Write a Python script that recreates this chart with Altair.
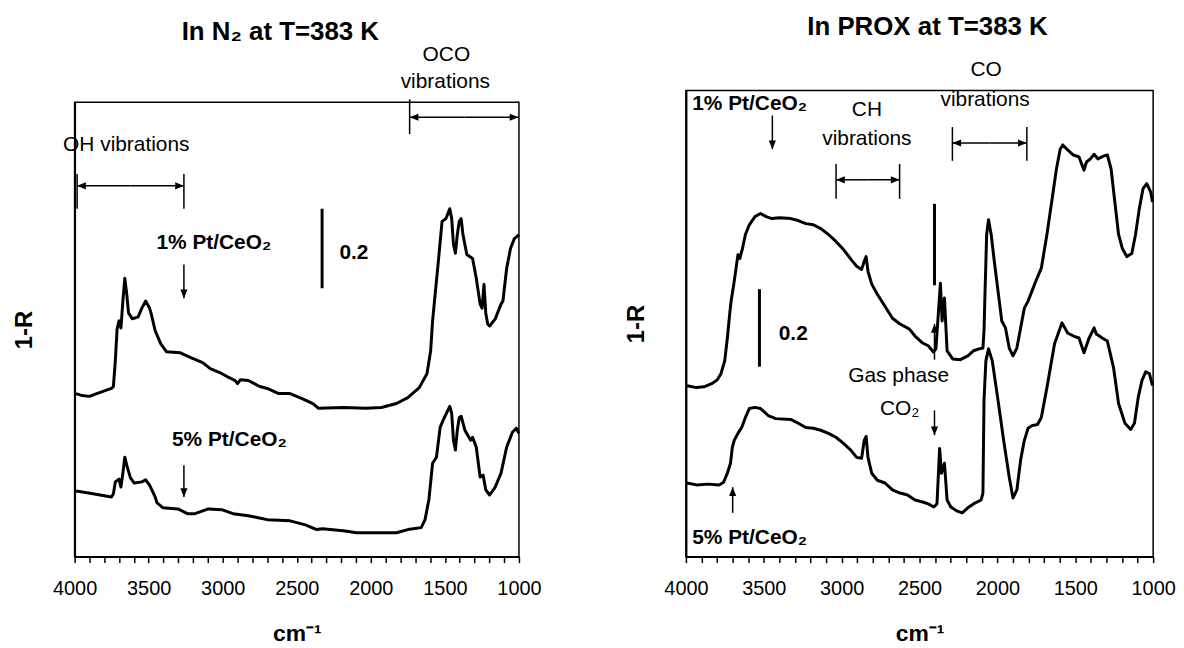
import altair as alt
import pandas as pd

FONT = "Liberation Sans"

# ---------------- Left panel: in N2 ----------------
n2_1_wn = [3990, 3950, 3900, 3850, 3790, 3751, 3738, 3725, 3713, 3700, 3687, 3674, 3661, 3648, 3636, 3610, 3571, 3546, 3520, 3494,
           3482, 3456, 3418, 3379, 3289, 3212, 3135, 3084, 3020, 2956, 2917, 2900, 2880, 2827, 2750, 2699, 2622, 2545, 2468, 2391,
           2353, 2186, 2032, 1929, 1827, 1750, 1673, 1621, 1596, 1583, 1570, 1557, 1544, 1519, 1493, 1467, 1454, 1442, 1429, 1416,
           1403, 1390, 1378, 1352, 1313, 1288, 1262, 1249, 1236, 1224, 1211, 1198, 1160, 1121, 1108, 1083, 1057, 1031, 1015, 1000]
n2_1_y = [0.41, 0.405, 0.403, 0.41, 0.418, 0.423, 0.428, 0.493, 0.573, 0.593, 0.575, 0.643, 0.70, 0.66, 0.613, 0.598, 0.603, 0.625, 0.643, 0.625,
          0.61, 0.568, 0.535, 0.515, 0.513, 0.50, 0.488, 0.473, 0.463, 0.45, 0.443, 0.435, 0.445, 0.443, 0.428, 0.423, 0.41, 0.41, 0.398, 0.385,
          0.373, 0.375, 0.373, 0.375, 0.385, 0.40, 0.425, 0.46, 0.518, 0.593, 0.643, 0.693, 0.743, 0.843, 0.85, 0.875, 0.85, 0.785, 0.763, 0.81,
          0.843, 0.85, 0.81, 0.76, 0.75, 0.70, 0.635, 0.625, 0.685, 0.613, 0.585, 0.58, 0.598, 0.635, 0.643, 0.725, 0.775, 0.80, 0.805, 0.81]

n2_5_wn = [3990, 3905, 3828, 3751, 3738, 3725, 3700, 3687, 3674, 3661, 3648, 3623, 3597, 3546, 3520, 3494, 3456, 3443, 3405, 3302,
           3238, 3187, 3097, 3007, 2930, 2827, 2699, 2545, 2442, 2365, 2327, 2186, 2096, 1929, 1827, 1750, 1660, 1634, 1608, 1583,
           1557, 1532, 1506, 1480, 1467, 1454, 1442, 1429, 1416, 1403, 1390, 1365, 1326, 1313, 1288, 1262, 1242, 1224, 1198, 1160,
           1121, 1083, 1044, 1018, 1000]
n2_5_y = [0.165, 0.16, 0.155, 0.15, 0.158, 0.188, 0.195, 0.175, 0.21, 0.25, 0.23, 0.198, 0.185, 0.188, 0.193, 0.18, 0.15, 0.135, 0.123, 0.12,
          0.108, 0.108, 0.12, 0.118, 0.108, 0.103, 0.093, 0.09, 0.08, 0.068, 0.07, 0.065, 0.06, 0.06, 0.06, 0.068, 0.073, 0.093, 0.143, 0.235,
          0.25, 0.325, 0.348, 0.368, 0.378, 0.36, 0.293, 0.268, 0.318, 0.35, 0.353, 0.318, 0.293, 0.30, 0.275, 0.20, 0.205, 0.168, 0.155, 0.175,
          0.21, 0.275, 0.313, 0.323, 0.31]

# ---------------- Right panel: in PROX ----------------
prox_1_wn = [3993, 3932, 3884, 3835, 3799, 3775, 3751, 3734, 3719, 3710, 3690, 3666, 3654, 3637, 3618, 3593, 3557, 3521, 3485, 3448,
             3400, 3327, 3279, 3230, 3182, 3134, 3085, 3037, 2988, 2940, 2904, 2872, 2855, 2843, 2831, 2807, 2771, 2722, 2674, 2625,
             2565, 2529, 2480, 2444, 2411, 2395, 2366, 2355, 2340, 2323, 2287, 2238, 2190, 2154, 2117, 2093, 2086, 2081, 2069, 2057,
             2040, 2020, 1996, 1972, 1948, 1924, 1900, 1875, 1851, 1827, 1803, 1754, 1718, 1682, 1645, 1621, 1597, 1580, 1549, 1512,
             1476, 1444, 1428, 1403, 1379, 1355, 1319, 1294, 1270, 1246, 1222, 1198, 1169, 1137, 1113, 1089, 1065, 1041, 1016, 1004]
prox_1_y = [0.441, 0.436, 0.438, 0.446, 0.456, 0.472, 0.505, 0.564, 0.626, 0.659, 0.710, 0.779, 0.769, 0.795, 0.831, 0.856, 0.877, 0.885, 0.877, 0.872,
            0.874, 0.872, 0.867, 0.859, 0.856, 0.846, 0.831, 0.813, 0.792, 0.767, 0.749, 0.741, 0.762, 0.774, 0.736, 0.703, 0.677, 0.646, 0.615, 0.600,
            0.587, 0.569, 0.551, 0.544, 0.528, 0.536, 0.705, 0.608, 0.667, 0.531, 0.510, 0.508, 0.518, 0.531, 0.536, 0.538, 0.582, 0.659, 0.831, 0.869,
            0.831, 0.762, 0.685, 0.608, 0.590, 0.538, 0.518, 0.538, 0.590, 0.641, 0.659, 0.710, 0.744, 0.831, 0.933, 1.000, 1.051, 1.062, 1.049, 1.036,
            1.031, 0.997, 1.018, 1.026, 1.038, 1.026, 1.033, 1.036, 1.000, 0.915, 0.831, 0.795, 0.774, 0.782, 0.831, 0.897, 0.949, 0.962, 0.941, 0.915]

prox_5_wn = [3993, 3932, 3860, 3787, 3758, 3734, 3714, 3702, 3690, 3666, 3642, 3618, 3593, 3557, 3521, 3472, 3424, 3327, 3279, 3230,
             3182, 3134, 3085, 3037, 2988, 2940, 2904, 2872, 2855, 2843, 2831, 2807, 2771, 2722, 2674, 2625, 2577, 2529, 2480, 2444,
             2408, 2388, 2371, 2359, 2340, 2323, 2299, 2262, 2226, 2190, 2154, 2105, 2093, 2086, 2074, 2057, 2033, 1996, 1960, 1924,
             1900, 1875, 1851, 1827, 1803, 1778, 1742, 1718, 1682, 1633, 1585, 1549, 1512, 1476, 1444, 1413, 1379, 1364, 1327, 1294,
             1254, 1222, 1181, 1144, 1120, 1096, 1072, 1048, 1024, 1004]
prox_5_y = [0.190, 0.185, 0.187, 0.185, 0.192, 0.215, 0.241, 0.282, 0.300, 0.318, 0.333, 0.359, 0.382, 0.385, 0.382, 0.364, 0.356, 0.354, 0.344, 0.333,
            0.331, 0.326, 0.318, 0.308, 0.292, 0.274, 0.256, 0.254, 0.300, 0.310, 0.256, 0.215, 0.197, 0.190, 0.172, 0.164, 0.159, 0.146, 0.141, 0.136,
            0.128, 0.136, 0.279, 0.215, 0.241, 0.146, 0.128, 0.118, 0.113, 0.126, 0.136, 0.146, 0.164, 0.403, 0.505, 0.536, 0.505, 0.403, 0.300, 0.205,
            0.151, 0.172, 0.249, 0.300, 0.331, 0.338, 0.341, 0.359, 0.436, 0.549, 0.603, 0.577, 0.569, 0.564, 0.526, 0.562, 0.590, 0.574, 0.564, 0.556,
            0.487, 0.395, 0.344, 0.328, 0.344, 0.410, 0.454, 0.477, 0.472, 0.441]

# ---------------- Annotations (data coordinates: wavenumber, 1-R) ----------------
n2_title = [(2611, 1.30, "In N\u2082 at T=383 K")]
n2_bold = [(3060, 0.7875, "1% Pt/CeO\u2082"), (2955, 0.2925, "5% Pt/CeO\u2082"), (2114, 0.7625, "0.2")]
n2_plain = [(1490, 1.2625, "OCO"), (1497, 1.1925, "vibrations"), (3651, 1.035, "OH vibrations")]
n2_bars = [(2329, 0.675, 0.875)]
n2_ticks = [(1738, 1.0625, 1.15), (3983, 0.875, 0.9625), (3262, 0.875, 0.9625)]
n2_arrows = [(1369, 1.105, 1738, 1.105), (1369, 1.105, 1003, 1.105),
             (3622, 0.9325, 3983, 0.9325), (3622, 0.9325, 3262, 0.9325),
             (3262, 0.735, 3262, 0.65), (3262, 0.23, 3262, 0.15)]

prox_title = [(2449, 1.346, "In PROX at T=383 K")]
prox_bold = [(3591, 1.167, "1% Pt/CeO\u2082"), (3591, 0.049, "5% Pt/CeO\u2082"), (3311, 0.574, "0.2")]
prox_plain = [(2838, 1.151, "CH"), (2838, 1.077, "vibrations"), (2072, 1.254, "CO"), (2079, 1.177, "vibrations"),
              (2634, 0.467, "Gas phase"), (2628, 0.382, "CO\u2082")]
prox_bars = [(3528, 0.49, 0.69), (2404, 0.70, 0.91)]
prox_ticks = [(3036, 0.923, 1.013), (2628, 0.923, 1.013), (2289, 1.021, 1.108), (1811, 1.021, 1.108)]
prox_arrows = [(2832, 0.972, 3036, 0.972), (2832, 0.972, 2628, 0.972),
               (2050, 1.067, 2289, 1.067), (2050, 1.067, 1811, 1.067),
               (3445, 1.138, 3445, 1.051), (2404, 0.508, 2404, 0.600),
               (2404, 0.377, 2404, 0.313), (3700, 0.113, 3700, 0.179)]

HEAD_PATHS = {
    "down": "M-0.9,-2.2L0.9,-2.2L0,0Z",
    "up": "M-0.9,2.2L0.9,2.2L0,0Z",
    "left": "M2.2,-0.9L2.2,0.9L0,0Z",
    "right": "M-2.2,-0.9L-2.2,0.9L0,0Z",
}


def head_dir(a):
    x1, y1, x2, y2 = a
    if x1 == x2:
        return "up" if y2 > y1 else "down"
    return "left" if x2 > x1 else "right"  # x axis is reversed


def panel(curves, ymax, yrange, width, height, title, bold, plain, bars, ticks, arrows):
    xs = alt.Scale(domain=[1000, 4000], reverse=True, nice=False, zero=False)
    ys = alt.Scale(domain=[0, ymax], range=yrange, nice=False, zero=False)
    xaxis = alt.Axis(values=list(range(1000, 4001, 100)),
                     labelExpr="datum.value % 500 === 0 ? '' + datum.value : ''",
                     labelOverlap=False, labelFlush=False, grid=False,
                     tickSize=6, tickWidth=1.5, tickColor="black",
                     domainColor="black", domainWidth=2,
                     labelFont=FONT, labelFontSize=20, labelColor="black", labelPadding=16,
                     title="cm\u207b\u00b9", titleFont=FONT, titleFontSize=23, titleFontWeight="bold",
                     titleColor="black", titlePadding=24)
    yaxis = alt.Axis(labels=False, ticks=False, grid=False, domainColor="black", domainWidth=2,
                     title="1-R", titleFont=FONT, titleFontSize=24, titleFontWeight="bold",
                     titleColor="black", titlePadding=38)

    def X(f):
        return alt.X(f, scale=xs, axis=xaxis)

    def Y(f):
        return alt.Y(f, scale=ys, axis=yaxis)

    frame_df = pd.DataFrame({"x": [4000], "x2": [1000], "y": [0.0], "y2": [ymax]})
    frame = alt.Chart(frame_df).mark_rect(filled=False, stroke="black", strokeWidth=1.5).encode(
        x=X("x:Q"), x2="x2:Q", y=Y("y:Q"), y2="y2:Q")

    line = alt.Chart(curves).mark_line(color="black", strokeWidth=3, strokeJoin="round").encode(
        x=X("wn:Q"), y=Y("y:Q"), detail="series:N", order="idx:Q")

    bars_df = pd.DataFrame(bars, columns=["x", "y", "y2"])
    bar = alt.Chart(bars_df).mark_rule(color="black", strokeWidth=3).encode(
        x=X("x:Q"), y=Y("y:Q"), y2="y2:Q")

    ticks_df = pd.DataFrame(ticks, columns=["x", "y", "y2"])
    tick = alt.Chart(ticks_df).mark_rule(color="black", strokeWidth=1.5).encode(
        x=X("x:Q"), y=Y("y:Q"), y2="y2:Q")

    arr_df = pd.DataFrame(arrows, columns=["x", "y", "x2", "y2"])
    arr_df["dir"] = [head_dir(a) for a in arrows]
    shaft = alt.Chart(arr_df).mark_rule(color="black", strokeWidth=1.5).encode(
        x=X("x:Q"), y=Y("y:Q"), x2="x2:Q", y2="y2:Q")
    head = alt.Chart(arr_df).mark_point(filled=True, color="black", opacity=1, size=64, strokeWidth=0).encode(
        x=X("x2:Q"), y=Y("y2:Q"),
        shape=alt.Shape("dir:N", scale=alt.Scale(domain=list(HEAD_PATHS.keys()), range=list(HEAD_PATHS.values())),
                        legend=None))

    title_df = pd.DataFrame(title, columns=["x", "y", "t"])
    ttl = alt.Chart(title_df).mark_text(font=FONT, fontSize=26, fontWeight="bold", color="black",
                                        align="center", baseline="alphabetic").encode(
        x=X("x:Q"), y=Y("y:Q"), text="t:N")

    bold_df = pd.DataFrame(bold, columns=["x", "y", "t"])
    btxt = alt.Chart(bold_df).mark_text(font=FONT, fontSize=21, fontWeight="bold", color="black",
                                        align="center", baseline="middle").encode(
        x=X("x:Q"), y=Y("y:Q"), text="t:N")

    plain_df = pd.DataFrame(plain, columns=["x", "y", "t"])
    ptxt = alt.Chart(plain_df).mark_text(font=FONT, fontSize=21, color="black",
                                         align="center", baseline="middle").encode(
        x=X("x:Q"), y=Y("y:Q"), text="t:N")

    return alt.layer(frame, line, bar, tick, shaft, head, ttl, btxt, ptxt).properties(
        width=width, height=height)


def curves_df(series):
    frames = []
    for name, wn, y in series:
        d = pd.DataFrame({"wn": wn, "y": y})
        d["series"] = name
        d["idx"] = range(len(d))
        frames.append(d)
    return pd.concat(frames, ignore_index=True)


left_curves = curves_df([("1% Pt/CeO2", n2_1_wn, n2_1_y), ("5% Pt/CeO2", n2_5_wn, n2_5_y)])
right_curves = curves_df([("1% Pt/CeO2", prox_1_wn, prox_1_y), ("5% Pt/CeO2", prox_5_wn, prox_5_y)])

left_panel = panel(left_curves, 1.1425, [469, 12], 447, 469, n2_title, n2_bold, n2_plain, n2_bars, n2_ticks, n2_arrows)
right_panel = panel(right_curves, 1.2026, [469, 0], 470, 469, prox_title, prox_bold, prox_plain, prox_bars, prox_ticks, prox_arrows)

chart = alt.hconcat(left_panel, right_panel, spacing=168, bounds="flush").properties(
    padding={"left": 4, "top": 3, "right": 0, "bottom": 0},
    background="white",
).configure_view(stroke="transparent")

chart.save("out.html", embed_options={"renderer": "svg", "actions": False})
